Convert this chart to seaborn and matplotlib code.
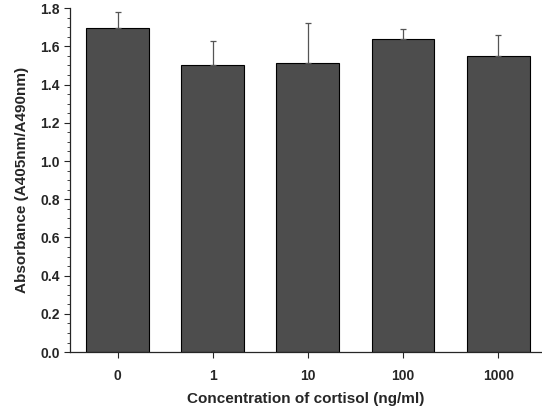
import numpy as np
import pandas as pd
import seaborn as sns
import matplotlib.pyplot as plt
from matplotlib.ticker import MultipleLocator

# values
concentrations = ["0", "1", "10", "100", "1000"]
absorbance = [1.695, 1.50, 1.515, 1.64, 1.55]
upper_err = [0.085, 0.13, 0.205, 0.05, 0.11]

df = pd.DataFrame({"conc": concentrations, "abs": absorbance})

sns.set_theme(style="ticks")
plt.rcParams['font.family'] = ['Liberation Sans', 'DejaVu Sans']

fig = plt.figure(figsize=(5.42, 4.08), dpi=100)
ax = fig.add_axes([0.129, 0.137, 0.871, 0.843])

sns.barplot(data=df, x="conc", y="abs", color="#4d4d4d", width=0.66,
            edgecolor="black", linewidth=0.8, saturation=1, ax=ax, errorbar=None)
ax.errorbar(np.arange(len(absorbance)), absorbance,
            yerr=[np.zeros(len(upper_err)), upper_err],
            fmt="none", ecolor="#555555", elinewidth=0.9, capsize=2.5, capthick=0.9)

ax.set_ylim(0, 1.8)
ax.set_xlim(-0.5, 4.46)
ax.yaxis.set_major_locator(MultipleLocator(0.2))
ax.yaxis.set_minor_locator(MultipleLocator(0.05))
ax.yaxis.set_major_formatter(plt.FormatStrFormatter("%.1f"))
ax.tick_params(axis="y", which="major", length=4, width=0.8, labelsize=10)
ax.tick_params(axis="y", which="minor", length=2, width=0.6)
ax.tick_params(axis="x", length=4, width=0.8, labelsize=10, pad=8)
for lab in ax.get_xticklabels() + ax.get_yticklabels():
    lab.set_fontweight("bold")

sns.despine(ax=ax)
ax.spines["left"].set_linewidth(0.9)
ax.spines["bottom"].set_linewidth(0.9)

ax.set_xlabel("Concentration of cortisol (ng/ml)", fontsize=11, fontweight="bold", labelpad=7)
ax.set_ylabel("Absorbance (A405nm/A490nm)", fontsize=11, fontweight="bold", labelpad=8)

fig.savefig("out.png", dpi=100)
